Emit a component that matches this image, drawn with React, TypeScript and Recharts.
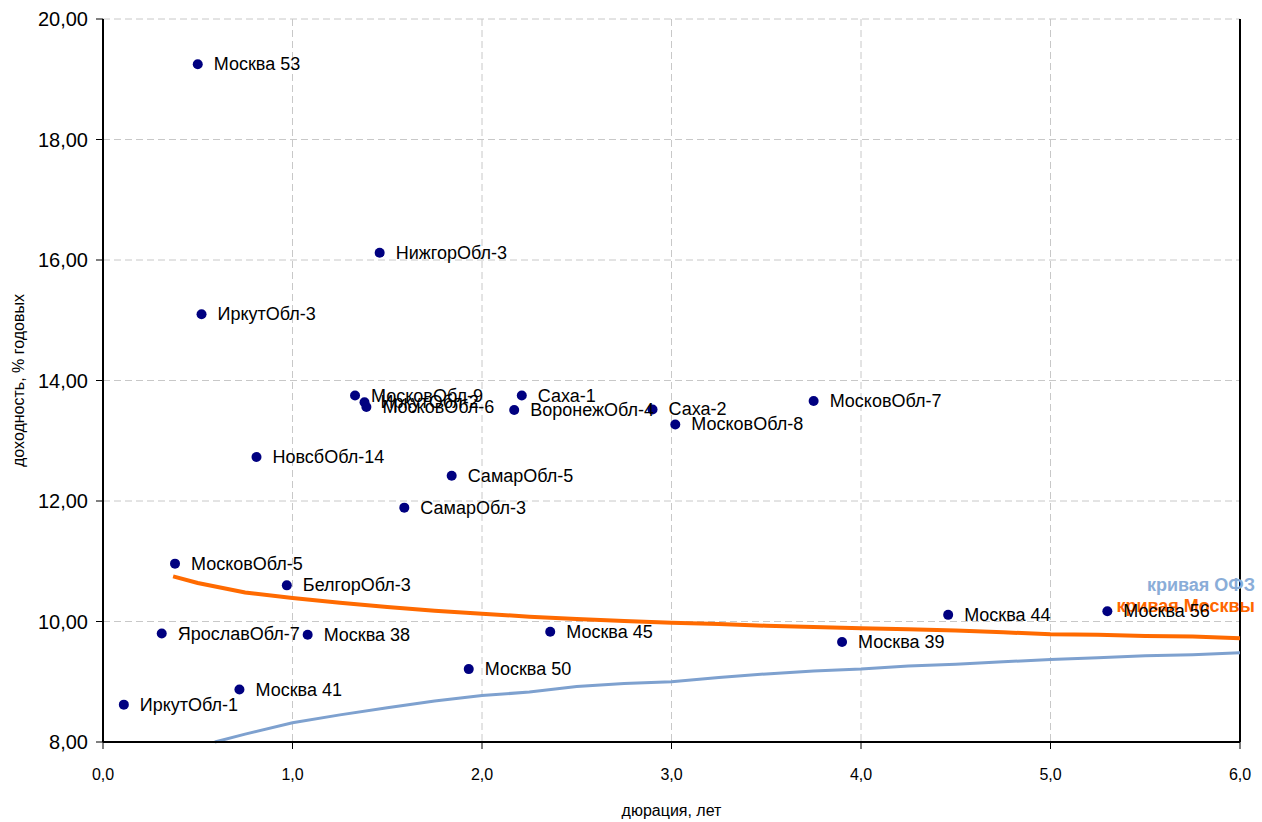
import { ComposedChart, Scatter, Line, XAxis, YAxis, CartesianGrid, LabelList, ReferenceLine } from "recharts";

const bondNames = [
  "Москва 53", "НижгорОбл-3", "ИркутОбл-3", "МосковОбл-9", "ИркутОбл-2", "МосковОбл-6",
  "Саха-1", "ВоронежОбл-4", "Саха-2", "МосковОбл-8", "МосковОбл-7", "НовсбОбл-14",
  "СамарОбл-5", "СамарОбл-3", "МосковОбл-5", "БелгорОбл-3", "ЯрославОбл-7", "Москва 38",
  "Москва 45", "Москва 50", "Москва 41", "ИркутОбл-1", "Москва 39", "Москва 44", "Москва 56",
];
const bondDuration = [
  0.5, 1.46, 0.52, 1.33, 1.38, 1.39,
  2.21, 2.17, 2.9, 3.02, 3.75, 0.81,
  1.84, 1.59, 0.38, 0.97, 0.31, 1.08,
  2.36, 1.93, 0.72, 0.11, 3.9, 4.46, 5.3,
];
const bondYield = [
  19.25, 16.12, 15.1, 13.75, 13.64, 13.56,
  13.75, 13.51, 13.52, 13.27, 13.66, 12.73,
  12.42, 11.89, 10.96, 10.6, 9.8, 9.78,
  9.83, 9.21, 8.87, 8.62, 9.66, 10.11, 10.17,
];

const ofzDuration = [0.59, 0.75, 1.0, 1.25, 1.5, 1.75, 2.0, 2.25, 2.5, 2.75, 3.0, 3.25, 3.5, 3.75, 4.0, 4.25, 4.5, 4.75, 5.0, 5.25, 5.5, 5.75, 6.0];
const ofzYield = [8.0, 8.13, 8.32, 8.45, 8.57, 8.68, 8.77, 8.83, 8.92, 8.97, 9.0, 9.07, 9.13, 9.18, 9.21, 9.26, 9.29, 9.33, 9.37, 9.4, 9.43, 9.45, 9.48];

const mosDuration = [0.37, 0.5, 0.75, 1.0, 1.25, 1.5, 1.75, 2.0, 2.25, 2.5, 2.75, 3.0, 3.25, 3.5, 3.75, 4.0, 4.25, 4.5, 4.75, 5.0, 5.25, 5.5, 5.75, 6.0];
const mosYield = [10.75, 10.64, 10.48, 10.39, 10.31, 10.24, 10.18, 10.13, 10.08, 10.04, 10.01, 9.98, 9.96, 9.93, 9.91, 9.89, 9.87, 9.85, 9.82, 9.79, 9.78, 9.76, 9.75, 9.72];

const xTicks = [0, 1, 2, 3, 4, 5, 6];
const yTicks = [8, 10, 12, 14, 16, 18, 20];

const bonds = bondNames.map((name, i) => ({ name, x: bondDuration[i], y: bondYield[i] }));
const ofz = ofzDuration.map((x, i) => ({ x, y: ofzYield[i] }));
const mos = mosDuration.map((x, i) => ({ x, y: mosYield[i] }));

const FONT = "'Liberation Sans', Arial, sans-serif";

function endLabel(text: string, color: string, count: number, dy: number) {
  return (props: any) => {
    if (props.index !== count - 1) return null;
    return (
      <text x={props.x + 15} y={props.y + dy} textAnchor="end" fill={color} fontSize={18} fontWeight="bold" fontFamily={FONT}>
        {text}
      </text>
    );
  };
}

export default function App() {
  return (
    <div style={{ position: "absolute", left: 0, top: 0, background: "#fff" }}>
      <ComposedChart width={1262} height={822} margin={{ top: 19, right: 22, bottom: 0, left: 0 }} style={{ fontFamily: FONT }}>
        <CartesianGrid stroke="#c8c8c8" strokeDasharray="7 4" />
        <XAxis
          type="number"
          dataKey="x"
          domain={[0, 6]}
          ticks={xTicks}
          interval={0}
          height={80}
          tickFormatter={(v: number) => v.toFixed(1).replace(".", ",")}
          tick={{ fontSize: 16, fill: "#000" }}
          tickSize={7}
          tickMargin={20}
          axisLine={{ stroke: "#000", strokeWidth: 2 }}
          tickLine={{ stroke: "#000" }}
          label={{ value: "дюрация, лет", position: "insideBottom", offset: 6, fontSize: 16, fill: "#000" }}
        />
        <YAxis
          type="number"
          dataKey="y"
          domain={[8, 20]}
          ticks={yTicks}
          interval={0}
          width={103}
          tickFormatter={(v: number) => v.toFixed(2).replace(".", ",")}
          tick={{ fontSize: 20, fill: "#000" }}
          tickSize={7}
          tickMargin={8}
          axisLine={{ stroke: "#000", strokeWidth: 2 }}
          tickLine={{ stroke: "#000" }}
          label={{ value: "доходность, % годовых", angle: -90, position: "insideLeft", offset: 18, textAnchor: "middle", fontSize: 16, fill: "#000" }}
        />
        <ReferenceLine x={6} stroke="#000" strokeWidth={2} />
        <Line data={ofz} dataKey="y" stroke="#7EA1CF" strokeWidth={3} dot={false} isAnimationActive={false}>
          <LabelList dataKey="y" content={endLabel("кривая ОФЗ", "#8AADD8", ofz.length, -62)} />
        </Line>
        <Line data={mos} dataKey="y" stroke="#FF6A00" strokeWidth={4} dot={false} isAnimationActive={false}>
          <LabelList dataKey="y" content={endLabel("кривая Москвы", "#FF6600", mos.length, -26)} />
        </Line>
        <Scatter data={bonds} dataKey="y" fill="#000080" isAnimationActive={false} shape={(p: any) => <circle cx={p.cx} cy={p.cy} r={5} fill="#000080" />}>
          <LabelList
            dataKey="name"
            content={(p: any) => (
              <text x={p.x + p.width / 2 + 16} y={p.y + p.height / 2} dominantBaseline="central" fontSize={18} fill="#000" fontFamily={FONT}>
                {p.value}
              </text>
            )}
          />
        </Scatter>
      </ComposedChart>
    </div>
  );
}
